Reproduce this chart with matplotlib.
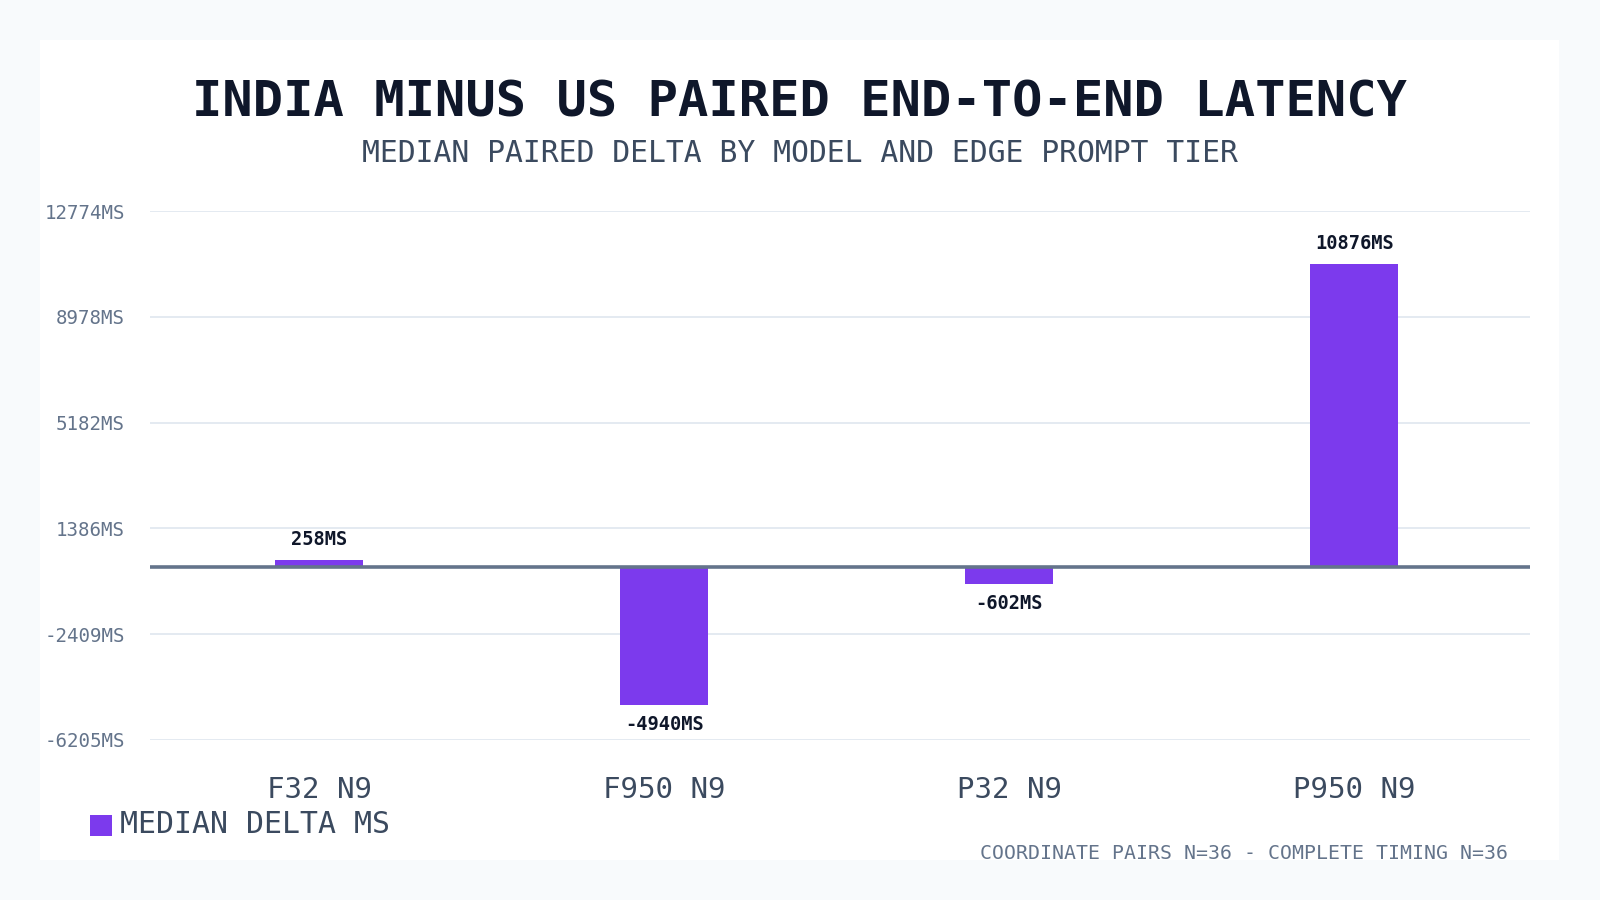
import matplotlib
matplotlib.use('Agg')
import matplotlib.pyplot as plt
from matplotlib.patches import Rectangle
import numpy as np

categories = ['F32 N9', 'F950 N9', 'P32 N9', 'P950 N9']
median_delta = [258, -4940, -602, 10876]
y_ticks = [-6205, -2409, 1386, 5182, 8978, 12774]

purple = '#7c3aed'
ink = '#0f172a'
slate = '#3b4a5f'
muted = '#64748b'
mono = ['DejaVu Sans Mono']

fig = plt.figure(figsize=(16, 9), dpi=100)
fig.patch.set_facecolor('#f8fafc')
# white card behind everything
fig.patches.append(Rectangle((0.0249, 0.0445), 0.9496, 0.9115, transform=fig.transFigure,
                             facecolor='white', edgecolor='none', zorder=-5))

ax = fig.add_axes([0.0938, 0.178, 0.8625, 0.5875])
ax.set_facecolor('white')
x = np.arange(len(categories))
ax.bar(x, median_delta, width=0.255, color=purple, zorder=3)
ax.axhline(0, color='#64748b', lw=2.6, zorder=4)

ax.set_xlim(-0.49, 3.51)
ax.set_ylim(y_ticks[0], y_ticks[-1])
ax.set_yticks(y_ticks)
ax.set_yticklabels(['{}MS'.format(v) for v in y_ticks], family=mono, fontsize=13.8, color=muted)
ax.set_xticks(x)
ax.set_xticklabels(categories, family=mono, fontsize=21, color=slate)
ax.tick_params(axis='y', length=0, pad=18)
ax.tick_params(axis='x', length=0, pad=26)
ax.grid(axis='y', color='#e2e8f0', lw=1.3, zorder=0)
for s in ax.spines.values():
    s.set_visible(False)

for xi, v in zip(x, median_delta):
    off = 380 if v >= 0 else -380
    ax.text(xi, v + off, '{}MS'.format(v), ha='center', va='bottom' if v >= 0 else 'top',
            family=mono, fontsize=13.5, fontweight='bold', color=ink, zorder=5)

fig.text(0.5, 0.886, 'INDIA MINUS US PAIRED END-TO-END LATENCY', ha='center', va='center',
         family=mono, fontsize=36.3, fontweight='bold', color=ink)
fig.text(0.5, 0.829, 'MEDIAN PAIRED DELTA BY MODEL AND EDGE PROMPT TIER', ha='center', va='center',
         family=mono, fontsize=21.4, color=slate)

# legend
fig.patches.append(Rectangle((0.0561, 0.0708), 0.0140, 0.0238, transform=fig.transFigure,
                             facecolor=purple, edgecolor='none', zorder=5))
fig.text(0.0752, 0.0835, 'MEDIAN DELTA MS', ha='left', va='center',
         family=mono, fontsize=21.5, color=slate)

fig.text(0.9426, 0.052, 'COORDINATE PAIRS N=36 - COMPLETE TIMING N=36', ha='right', va='center',
         family=mono, fontsize=14.3, color=muted)

fig.savefig('out.png', dpi=100, facecolor=fig.get_facecolor())
